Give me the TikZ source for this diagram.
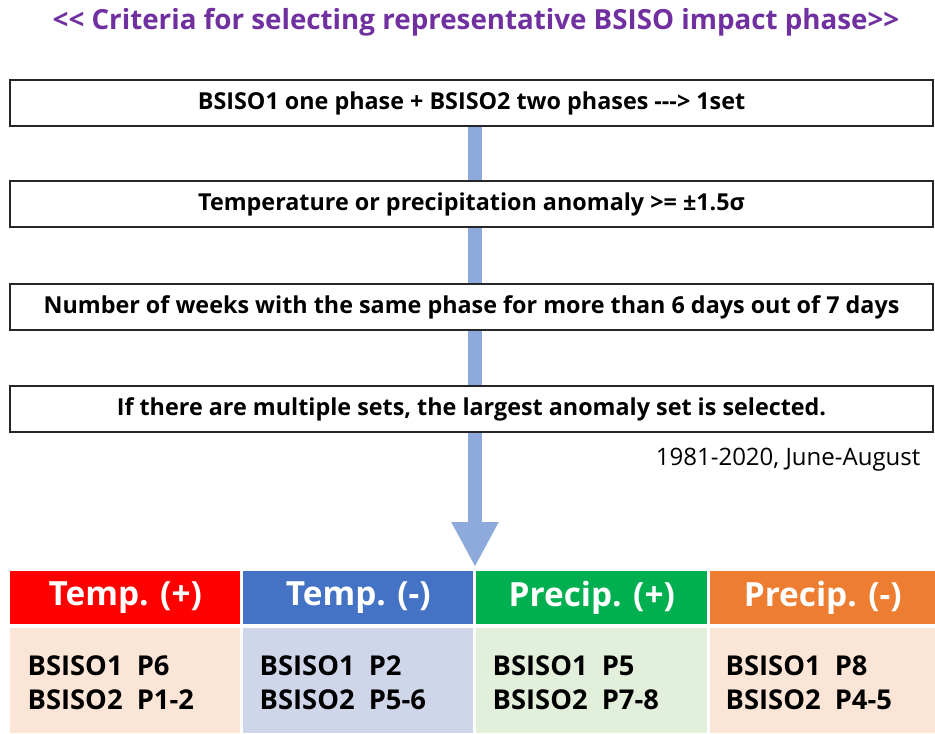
\documentclass[tikz,border=0pt]{standalone}
\usepackage{fontspec}
\setmainfont{Open Sans}[Ligatures=TeXOff]
\usetikzlibrary{arrows.meta}
\definecolor{titlepurple}{HTML}{7030A0}
\definecolor{arrowblue}{HTML}{8EA9DB}
\definecolor{hred}{HTML}{FF0000}
\definecolor{hblue}{HTML}{4472C4}
\definecolor{hgreen}{HTML}{00B050}
\definecolor{horange}{HTML}{ED7D31}
\definecolor{bpeach}{HTML}{FBE5D6}
\definecolor{blav}{HTML}{D0D6EA}
\definecolor{bgreen}{HTML}{E2EFDA}
\tikzset{
  critbox/.style={draw=black!85, line width=1.3pt, fill=white, minimum width=923*0.75pt, minimum height=46*0.75pt, inner sep=0pt, font=\bfseries\fontsize{17.5}{19}\selectfont},
  headcell/.style={anchor=north west, minimum height=53*0.75pt, inner sep=0pt, text=white, font=\bfseries\fontsize{25}{28}\selectfont},
  bodycell/.style={anchor=north west, minimum height=105*0.75pt, inner sep=0pt},
  celltext/.style={anchor=west, align=left, font=\bfseries\fontsize{20.5}{25.5}\selectfont},
  shaft/.style={draw=arrowblue, line width=14*0.75pt, -{Triangle[width=44*0.75pt,length=45*0.75pt]}, shorten >=0pt}
}
\begin{document}
\begin{tikzpicture}[x=0.75pt,y=-0.75pt]
\useasboundingbox (0,0) rectangle (935,733);
\node[text=titlepurple, font=\bfseries\fontsize{20.8}{23}\selectfont] (title) at (476,22) {<< Criteria for selecting representative BSISO impact phase>>};
\coordinate (tip) at (475,567);
\node[critbox] (b1) at (471.5,103) {BSISO1 one phase + BSISO2 two phases ---> 1set};
\draw[shaft] (b1.south -| tip) -- (tip);
\node[critbox] (b2) at (471.5,204) {Temperature or precipitation anomaly >= ±1.5σ};
\node[critbox] (b3) at (471.5,307) {Number of weeks with the same phase for more than 6 days out of 7 days};
\node[critbox] (b4) at (471.5,409) {If there are multiple sets, the largest anomaly set is selected.};
\node[anchor=east, font=\fontsize{18}{20}\selectfont] (period) at (925,460) {1981-2020, June-August};
% headers
\node[headcell, fill=hred, minimum width=230*0.75pt] (h1) at (10,571) {Temp. (+)};
\node[headcell, fill=hblue, minimum width=230*0.75pt] (h2) at (243,571) {Temp. (-)};
\node[headcell, fill=hgreen, minimum width=231*0.75pt] (h3) at (476,571) {Precip. (+)};
\node[headcell, fill=horange, minimum width=225*0.75pt] (h4) at (710,571) {Precip. (-)};
% bodies
\node[bodycell, fill=bpeach, minimum width=230*0.75pt] (c1) at (10,628) {};
\node[bodycell, fill=blav, minimum width=230*0.75pt] (c2) at (243,628) {};
\node[bodycell, fill=bgreen, minimum width=231*0.75pt] (c3) at (476,628) {};
\node[bodycell, fill=bpeach, minimum width=225*0.75pt] (c4) at (710,628) {};
\node[celltext] (t1) at (23,683) {BSISO1\ \ P6\\BSISO2\ \ P1-2};
\node[celltext] (t2) at (255,683) {BSISO1\ \ P2\\BSISO2\ \ P5-6};
\node[celltext] (t3) at (488,683) {BSISO1\ \ P5\\BSISO2\ \ P7-8};
\node[celltext] (t4) at (721,683) {BSISO1\ \ P8\\BSISO2\ \ P4-5};
\end{tikzpicture}
\end{document}
